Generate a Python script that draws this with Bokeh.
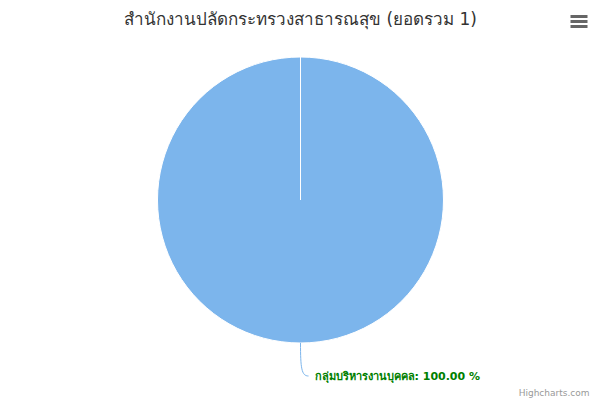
import numpy as np
from bokeh.plotting import figure
from bokeh.models import Range1d, ColumnDataSource
from bokeh.core.properties import value
from bokeh.embed import file_html
from bokeh.resources import INLINE

title_text = "สำนักงานปลัดกระทรวงสาธารณสุข (ยอดรวม 1)"
categories = ["กลุ่มบริหารงานบุคคล"]
counts = [1]
colors = ["#7cb5ec"]

W, H = 600, 400
FONT = "DejaVu Sans"
p = figure(width=W, height=H, output_backend="svg", toolbar_location=None,
           x_range=Range1d(0, W), y_range=Range1d(0, H), min_border=0)
p.axis.visible = False
p.grid.visible = False
p.outline_line_color = None
p.background_fill_color = "white"
p.border_fill_color = "white"

cx, cy, r = 300, 200.5, 143
total = float(sum(counts))
fracs = np.array(counts) / total
# Highcharts starts at top, clockwise
ends = np.pi / 2 - np.concatenate([[0], np.cumsum(fracs)[:-1]]) * 2 * np.pi
spans = np.minimum(fracs * 2 * np.pi, 2 * np.pi - 1e-4)
starts = ends - spans
src = ColumnDataSource(dict(start=starts, end=ends, color=colors,
                            cat=categories, pct=fracs * 100))
p.wedge(x=cx, y=cy, radius=r, start_angle="start", end_angle="end",
        fill_color="color", line_color="white", line_width=1, source=src)

# connector + label
mids = ends - fracs * np.pi
for m, cat, pc in zip(mids, categories, fracs * 100):
    ex, ey = cx + r * np.cos(m), cy + r * np.sin(m)
    lx, ly = ex + 8, ey - 33
    p.bezier(x0=[ex], y0=[ey], x1=[lx], y1=[ly], cx0=[ex], cy0=[ly + 8],
             cx1=[ex + 1], cy1=[ly], line_color="#7cb5ec", line_width=1)
    p.text(x=[lx + 6], y=[ly], text=[f"{cat}: {pc:.2f} %"],
           text_font=value(FONT), text_font_size="11px",
           text_font_style="bold", text_color="green",
           text_baseline="middle", text_align="left")

# title
p.text(x=[W / 2], y=[H - 18], text=[title_text], text_font=value(FONT),
       text_font_size="17px", text_color="#333333", text_align="center",
       text_baseline="middle")

# context menu icon
p.segment(x0=[570, 570, 570], y0=[H - 16, H - 21, H - 26],
          x1=[587, 587, 587], y1=[H - 16, H - 21, H - 26],
          line_color="#666666", line_width=3)

# credits
p.text(x=[589], y=[H - 392], text=["Highcharts.com"], text_font=value(FONT),
       text_font_size="9px", text_color="#999999", text_align="right",
       text_baseline="middle")

open("out.html", "w").write(file_html(p, INLINE))
